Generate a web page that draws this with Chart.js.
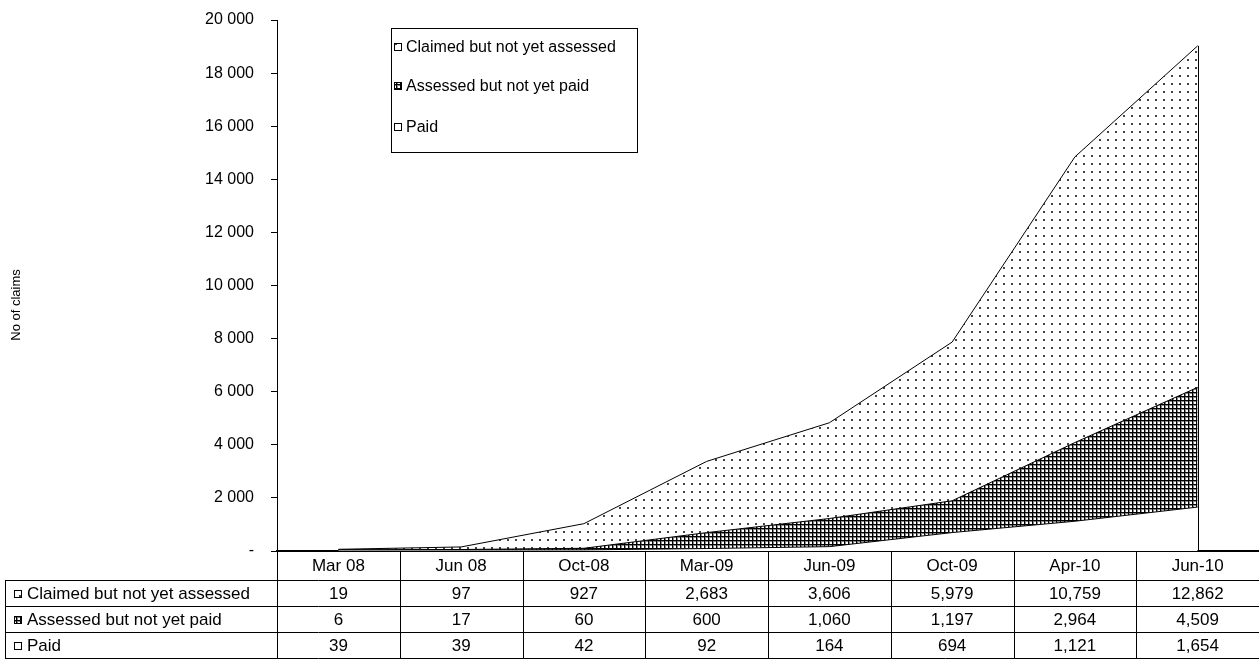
<!DOCTYPE html>
<html>
<head>
<meta charset="utf-8">
<script src="https://cdn.jsdelivr.net/npm/chart.js@4.4.0/dist/chart.umd.min.js"></script>
<style>
  html, body { margin: 0; padding: 0; background: #fff; }
  #wrap { width: 1259px; height: 660px; position: relative; }
</style>
</head>
<body>
<div id="wrap"><canvas id="claimsChart"></canvas></div>
<script>
const categories = ['Mar 08', 'Jun 08', 'Oct-08', 'Mar-09', 'Jun-09', 'Oct-09', 'Apr-10', 'Jun-10'];
const claimedNotAssessed = [19, 97, 927, 2683, 3606, 5979, 10759, 12862];
const assessedNotPaid = [6, 17, 60, 600, 1060, 1197, 2964, 4509];
const paid = [39, 39, 42, 92, 164, 694, 1121, 1654];
const yTicks = [0, 2000, 4000, 6000, 8000, 10000, 12000, 14000, 16000, 18000, 20000];

const FONT = '"Liberation Sans", Arial, sans-serif';

function makePattern(kind) {
  const c = document.createElement('canvas');
  const g = c.getContext('2d');
  if (kind === 'dots') {
    c.width = 8; c.height = 8;
    g.fillStyle = '#fff'; g.fillRect(0, 0, 8, 8);
    g.fillStyle = '#444'; g.fillRect(3, 3, 2, 2);
  } else if (kind === 'grid') {
    c.width = 4; c.height = 4;
    g.fillStyle = '#fff'; g.fillRect(0, 0, 4, 4);
    g.fillStyle = '#888'; g.fillRect(0, 1, 4, 1); g.fillRect(1, 0, 1, 4);
    g.fillStyle = '#000'; g.fillRect(0, 0, 4, 1); g.fillRect(0, 0, 1, 4);
  } else {
    c.width = 4; c.height = 4;
    g.fillStyle = '#fff'; g.fillRect(0, 0, 4, 4);
  }
  return g.createPattern(c, 'repeat');
}

const ctx = document.getElementById('claimsChart').getContext('2d');
const patDots = makePattern('dots');
const patGrid = makePattern('grid');
const patWhite = makePattern('white');

function fmtAxis(v) {
  if (v === 0) return '-';
  return String(v).replace(/\B(?=(\d{3})+(?!\d))/g, ' ');
}

// legend, axis title, right edge of the area and the data table underneath
const extrasPlugin = {
  id: 'extras',
  afterDatasetsDraw(chart) {
    const { ctx, scales: { x, y } } = chart;
    const last = categories.length - 1;
    const total = paid[last] + assessedNotPaid[last] + claimedNotAssessed[last];
    const px = Math.round(x.getPixelForValue(last)) + 0.5;
    ctx.save();
    ctx.strokeStyle = '#000';
    ctx.lineWidth = 1;
    ctx.beginPath();
    ctx.moveTo(px, y.getPixelForValue(total));
    ctx.lineTo(px, y.getPixelForValue(0));
    ctx.stroke();
    ctx.restore();
  },
  afterDraw(chart) {
    const { ctx, chartArea, scales: { x } } = chart;
    const ds = chart.data.datasets;
    ctx.save();

    // y axis title
    ctx.save();
    ctx.translate(16, 305);
    ctx.rotate(-Math.PI / 2);
    ctx.font = '13px ' + FONT;
    ctx.fillStyle = '#000';
    ctx.textAlign = 'center';
    ctx.textBaseline = 'middle';
    ctx.fillText('No of claims', 0, 0);
    ctx.restore();

    ctx.font = '16px ' + FONT;
    ctx.textBaseline = 'middle';

    // legend box
    const lx = 391, ly = 28, lw = 246, lh = 124;
    ctx.fillStyle = '#fff';
    ctx.fillRect(lx, ly, lw, lh);
    ctx.strokeStyle = '#000';
    ctx.lineWidth = 1;
    ctx.strokeRect(lx + 0.5, ly + 0.5, lw, lh);
    const order = [2, 1, 0];
    const legY = [47, 86, 127];
    order.forEach((di, i) => {
      ctx.fillStyle = ds[di].backgroundColor;
      ctx.fillRect(394, legY[i] - 4, 8, 8);
      ctx.strokeStyle = '#000';
      ctx.strokeRect(394.5, legY[i] - 3.5, 7, 7);
      ctx.fillStyle = '#000';
      ctx.textAlign = 'left';
      ctx.fillText(ds[di].label, 406, legY[i] + 1);
    });

    // data table
    ctx.font = '17px ' + FONT;
    const top = chartArea.bottom;
    const rows = [top, 580, 606, 632, 658];
    const colW = (chartArea.right - chartArea.left) / categories.length;
    const left = 5;
    ctx.strokeStyle = '#000';
    ctx.lineWidth = 1;
    ctx.beginPath();
    for (let r = 1; r < rows.length; r++) {
      ctx.moveTo(left, rows[r] + 0.5);
      ctx.lineTo(chartArea.right, rows[r] + 0.5);
    }
    ctx.moveTo(left + 0.5, rows[1]);
    ctx.lineTo(left + 0.5, rows[4]);
    for (let i = 0; i <= categories.length; i++) {
      const vx = Math.round(chartArea.left + i * colW) + 0.5;
      ctx.moveTo(vx, top);
      ctx.lineTo(vx, rows[4]);
    }
    ctx.stroke();

    ctx.fillStyle = '#000';
    ctx.textAlign = 'center';
    categories.forEach((c, i) => {
      ctx.fillText(c, x.getPixelForValue(i), (rows[0] + rows[1]) / 2 + 1);
    });
    order.forEach((di, r) => {
      const cy = (rows[r + 1] + rows[r + 2]) / 2 + 1;
      ctx.fillStyle = ds[di].backgroundColor;
      ctx.fillRect(14, cy - 4, 8, 8);
      ctx.strokeStyle = '#000';
      ctx.strokeRect(14.5, cy - 3.5, 7, 7);
      ctx.fillStyle = '#000';
      ctx.textAlign = 'left';
      ctx.fillText(ds[di].label, 27, cy);
      ctx.textAlign = 'center';
      ds[di].data.forEach((v, i) => {
        ctx.fillText(v.toLocaleString('en-US'), x.getPixelForValue(i), cy);
      });
    });
    ctx.restore();
  }
};

new Chart(ctx, {
  type: 'line',
  data: {
    labels: categories,
    datasets: [
      {
        label: 'Paid',
        data: paid,
        backgroundColor: patWhite,
        borderColor: '#000',
        borderWidth: 1,
        fill: 'origin'
      },
      {
        label: 'Assessed but not yet paid',
        data: assessedNotPaid,
        backgroundColor: patGrid,
        borderColor: '#000',
        borderWidth: 1,
        fill: '-1'
      },
      {
        label: 'Claimed but not yet assessed',
        data: claimedNotAssessed,
        backgroundColor: patDots,
        borderColor: '#000',
        borderWidth: 1,
        fill: '-1'
      }
    ]
  },
  options: {
    responsive: true,
    maintainAspectRatio: false,
    animation: false,
    elements: { point: { radius: 0 }, line: { tension: 0 } },
    layout: { padding: { top: 20, right: 0, left: 0, bottom: 0 } },
    plugins: {
      legend: { display: false },
      tooltip: { enabled: false }
    },
    scales: {
      x: {
        offset: true,
        grid: { display: false },
        border: { display: true, color: '#000', width: 2 },
        ticks: { display: false },
        afterFit: (s) => { s.height = 109; }
      },
      y: {
        stacked: true,
        min: 0,
        max: 20000,
        afterBuildTicks: (s) => { s.ticks = yTicks.map(v => ({ value: v })); },
        ticks: {
          color: '#000',
          font: { family: FONT, size: 16 },
          padding: 17,
          callback: (v) => fmtAxis(v)
        },
        grid: { drawOnChartArea: false, drawTicks: true, tickLength: 6, color: '#000' },
        border: { display: true, color: '#000', width: 1 },
        title: { display: false },
        afterFit: (s) => {
          s.width = 277;
          s.paddingTop = 0;
          s.paddingBottom = 0;
        }
      }
    }
  },
  plugins: [extrasPlugin]
});
</script>
</body>
</html>
